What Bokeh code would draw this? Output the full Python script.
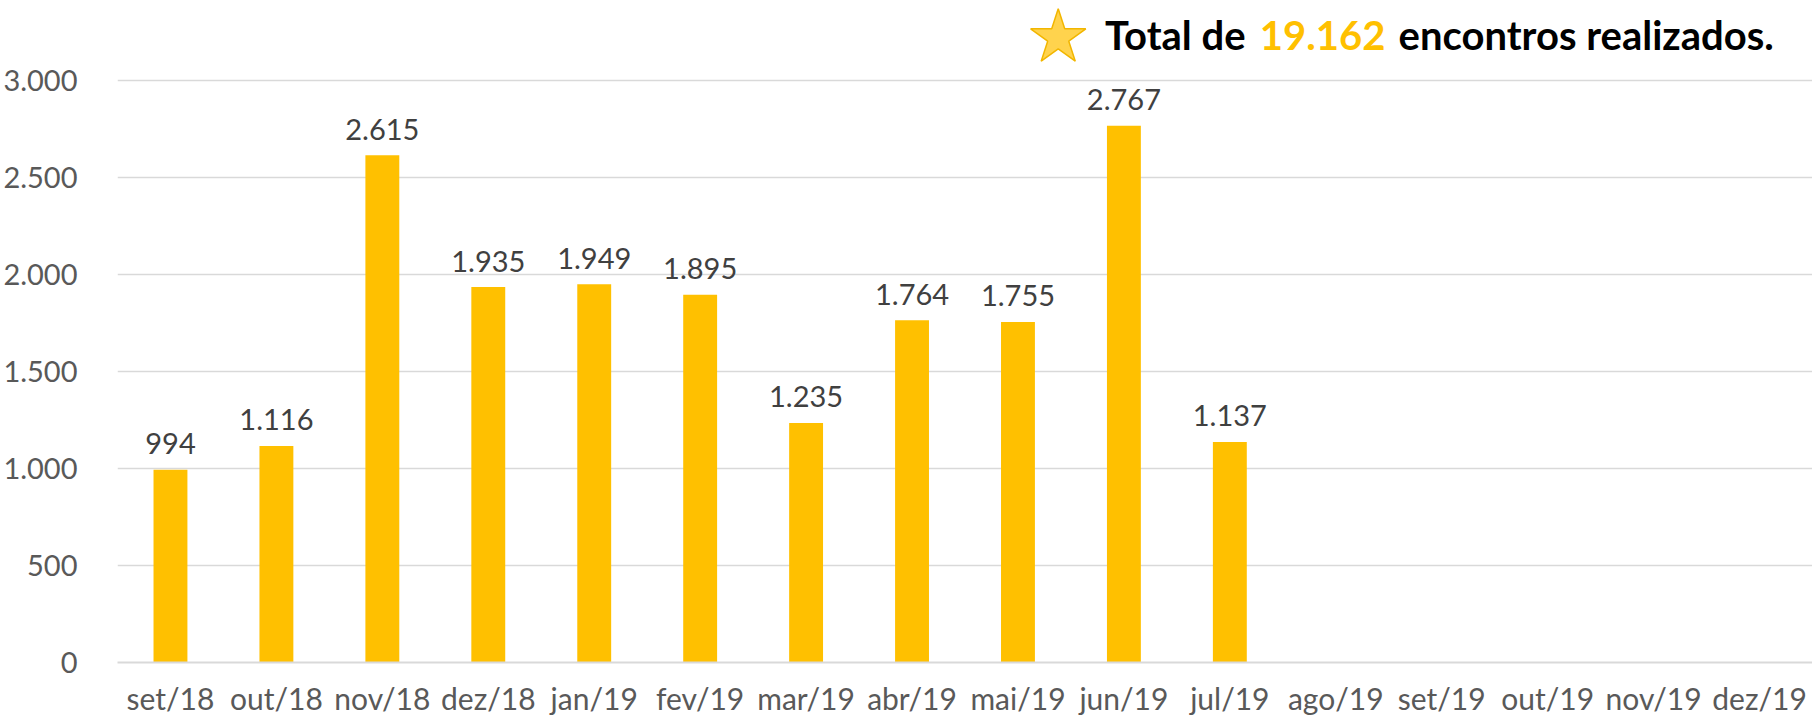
from bokeh.plotting import figure
from bokeh.models import Range1d, FixedTicker, ColumnDataSource
from bokeh.core.properties import value
from bokeh.embed import file_html
from bokeh.resources import INLINE

# ---- data ----
months = ["set/18", "out/18", "nov/18", "dez/18", "jan/19", "fev/19", "mar/19", "abr/19",
          "mai/19", "jun/19", "jul/19", "ago/19", "set/19", "out/19", "nov/19", "dez/19"]
bar_months = months[:11]
encontros = [994, 1116, 2615, 1935, 1949, 1895, 1235, 1764, 1755, 2767, 1137]
y_ticks = [0, 500, 1000, 1500, 2000, 2500, 3000]
y_tick_labels = ["0", "500", "1.000", "1.500", "2.000", "2.500", "3.000"]
total_text = "19.162"

FONT = "Lato"
GOLD = "#FFC000"

def fmt(v):
    return f"{v:,}".replace(",", ".")

src = ColumnDataSource(dict(x=bar_months, y=encontros, lbl=[fmt(v) for v in encontros]))

p = figure(x_range=months, y_range=Range1d(0, 3412), width=1812, height=718,
           output_backend="svg", toolbar_location=None,
           min_border_left=117, min_border_right=0, min_border_top=0, min_border_bottom=50)
p.outline_line_color = None
p.background_fill_color = "white"

p.vbar(x="x", top="y", width=0.32, source=src, color=GOLD, line_color=None)
p.text(x="x", y="y", text="lbl", source=src, text_align="center", text_baseline="middle",
       y_offset=-26, text_font=value(FONT), text_font_size="29px", text_color="#404040")

# axes
p.yaxis.ticker = FixedTicker(ticks=y_ticks)
p.yaxis.major_label_overrides = {t: l for t, l in zip(y_ticks, y_tick_labels)}
p.yaxis.axis_line_color = None
p.yaxis.major_tick_line_color = None
p.yaxis.minor_tick_line_color = None
p.yaxis.major_label_standoff = 34
p.yaxis.major_label_text_font = FONT
p.yaxis.major_label_text_font_size = "29px"
p.yaxis.major_label_text_color = "#595959"

p.xaxis.axis_line_color = "#D9D9D9"
p.xaxis.axis_line_width = 2
p.xaxis.major_tick_line_color = None
p.xaxis.minor_tick_line_color = None
p.xaxis.major_label_standoff = 11
p.xaxis.major_label_text_font = FONT
p.xaxis.major_label_text_font_size = "30px"
p.xaxis.major_label_text_line_height = 0.75
p.xaxis.major_label_text_color = "#595959"

p.xgrid.grid_line_color = None
p.ygrid.grid_line_color = "#D9D9D9"
p.ygrid.grid_line_width = 1.5

# title line with star
ty = 3232
p.scatter(x=[("mai/19", 0.38)], y=[3220], marker="star", size=58,
          fill_color="#FFD34D", line_color="#F2B600", line_width=1.5)
p.text(x=[("nov/19", 0.0)], y=[ty], text=["Total de"], text_align="right", text_baseline="middle",
       x_offset=-408, text_font=value(FONT), text_font_style="bold", text_font_size="40px",
       text_color="#000000")
p.text(x=[("nov/19", 0.0)], y=[ty], text=[total_text], text_align="center", text_baseline="middle",
       x_offset=-331, text_font=value(FONT), text_font_style="bold", text_font_size="40px",
       text_color=GOLD)
p.text(x=[("nov/19", 0.0)], y=[ty], text=["encontros realizados."], text_align="left",
       text_baseline="middle", x_offset=-255, text_font=value(FONT), text_font_style="bold",
       text_font_size="40px", text_color="#000000")

open("out.html", "w").write(file_html(p, INLINE))
